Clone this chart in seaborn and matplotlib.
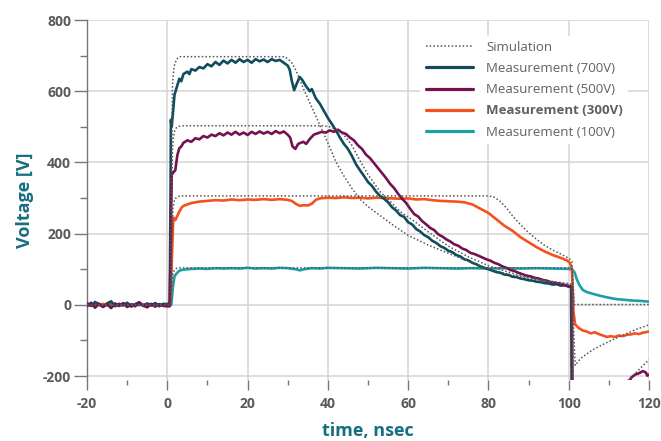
import numpy as np
import pandas as pd
import matplotlib
matplotlib.use("Agg")
import matplotlib.pyplot as plt
import seaborn as sns
from matplotlib.ticker import MultipleLocator
from matplotlib.lines import Line2D

# ---------------- data ----------------
pre_t = [-20, -19, -18, -17, -16, -15, -14, -13, -12, -11, -10, -9, -8, -7, -6, -5, -4, -3, -2, -1, 0]

# Simulation curves
sim700_t = [-20, 0.8, 1.0, 1.3, 1.7, 2.3, 3.2, 29, 30, 31, 32, 34, 36, 38, 40, 42, 44, 46, 48, 50, 53, 56,
            60, 65, 70, 75, 80, 85, 90, 95, 100, 100.8, 101.2, 110, 120]
sim700_v = [0, 0, 350, 620, 670, 690, 697, 697, 692, 680, 660, 605, 555, 505, 455, 402, 362, 327, 297, 276, 251, 226,
            195, 168, 145, 122, 101, 86, 75, 65, 57, 55, -520, -420, -290]
sim500_t = [-20, 0.8, 1.0, 1.3, 1.7, 2.3, 3.2, 39, 40.5, 42, 44, 46, 48, 50, 53, 56, 58, 61, 65, 70, 75,
            80, 85, 90, 95, 100, 100.8, 101.2, 110, 115.8, 120]
sim500_v = [0, 0, 250, 440, 485, 498, 503, 503, 500, 493, 477, 448, 405, 366, 318, 285, 262, 239, 205, 165, 135,
            110, 92, 77, 67, 60, 58, -330, -260, -201, -154]
sim300_t = [-20, 0.9, 1.1, 1.4, 1.8, 2.4, 3.2, 80, 81.5, 83, 84.5, 86, 88, 90, 92, 94, 96, 98, 100, 100.8,
            101.2, 101.6, 103, 106, 110, 114.5, 117, 120]
sim300_v = [0, 0, 150, 270, 296, 303, 306, 306, 302, 290, 272, 250, 225, 203, 184, 167, 154, 143, 131, 122,
            -60, -170, -150, -126, -103, -80, -68, -56]
sim100_t = [-20, 0.9, 1.1, 1.4, 1.8, 2.4, 3.2, 100.8, 101.1, 101.4, 120]
sim100_v = [0, 0, 50, 88, 99, 103, 104, 104, 60, 1, 1]

# Measurement (700V)
m700_t = pre_t + [0.6, 0.8, 0.9, 1.1, 1.4, 1.8, 2.4, 3, 3.5, 4, 5, 5.5, 6, 7, 8, 9, 10, 11, 12, 13, 14, 15,
                  16, 17, 18, 19, 20, 21, 22, 23, 24, 25, 26, 27, 28, 29, 30, 30.5, 31, 31.6, 32.2, 33, 33.6,
                  34.5, 35.5, 36, 37, 38, 39, 40, 41, 42, 43, 44, 45, 46, 47, 48, 49, 50, 51, 52, 53, 54,
                  55, 56, 57, 58, 59, 60, 61, 62, 63, 64, 65, 66, 67, 68, 69, 70, 71, 72, 73, 74, 75, 76,
                  77, 78, 79, 80, 81, 82, 83, 84, 85, 86, 87, 88, 89, 90, 91, 92, 93, 94, 95, 96, 97, 98,
                  99, 100, 100.6, 100.8]
m700_v = [5, -3, 8, 2, -6, 4, 10, -4, 3, -2, 6, -5, 2, 7, -3, 4, -1, 5, -4, 3, 2] + \
         [5, 300, 520, 500, 540, 590, 613, 635, 628, 648, 655, 648, 662, 658, 668, 664, 676, 670, 682, 674,
          686, 678, 688, 680, 690, 682, 688, 680, 690, 684, 689, 682, 690, 685, 688, 680, 672, 660, 630, 603,
          620, 640, 632, 615, 600, 606, 580, 565, 545, 525, 508, 490, 470, 452, 438, 418, 395, 378, 362,
          345, 334, 318, 306, 298, 288, 274, 265, 252, 247, 232, 226, 213, 206, 196, 190, 180, 174, 165,
          160, 152, 148, 140, 136, 128, 125, 118, 114, 108, 104, 100, 96, 92, 90, 85, 84, 79, 78, 74, 72,
          69, 68, 65, 64, 61, 60, 57, 58, 54, 55, 51, 52, -400]

# Measurement (500V)
m500_t = pre_t + [0.6, 0.9, 1.1, 1.5, 2, 2.5, 3, 3.5, 4, 5, 6, 7, 8, 9, 10, 11, 12, 13, 14, 15, 16, 17, 18,
                  19, 20, 21, 22, 23, 24, 25, 26, 27, 28, 29, 30, 30.6, 31.2, 31.9, 32.6, 33.9, 34.6, 35.5,
                  36.5, 37.5, 38.5, 39.5, 40.5, 41.5, 42.5, 43.5, 44.5, 45.5, 46.5, 47.5, 48.5, 49.5, 50.5,
                  51.5, 52.5, 53.5, 54.5, 55.5, 56.5, 57.5, 58.5, 59.5, 60.5, 61.5, 62.5, 63.5, 64.5, 65.5,
                  66.5, 67.5, 68.5, 69.5, 70.5, 71.5, 72.5, 73.5, 74.5, 75.5, 76.5, 77.5, 78.5, 79.5, 80.5,
                  81.5, 82.5, 83.5, 84.5, 85.5, 86.5, 87.5, 88.5, 89.5, 90.5, 91.5, 92.5, 93.5, 94.5, 95.5,
                  96.5, 97.5, 98.5, 99.5, 100.3, 100.8, 101.0, 114, 115.5, 116.5, 117.5, 118.5, 119.2,
                  119.6, 120]
m500_v = [-4, 6, -8, 3, -5, 2, -9, 4, -3, 5, -6, 1, -4, 7, -2, -7, 3, -5, 2, -3, -4] + \
         [-4, 200, 365, 372, 378, 420, 440, 445, 455, 462, 458, 468, 465, 474, 470, 478, 474, 482, 476, 484,
          478, 486, 478, 484, 477, 486, 480, 487, 481, 486, 480, 488, 482, 487, 478, 470, 445, 438, 452, 458,
          452, 466, 478, 482, 486, 484, 490, 486, 492, 484, 480, 470, 462, 448, 438, 422, 412, 398, 384,
          370, 356, 340, 328, 312, 298, 286, 270, 255, 248, 235, 226, 216, 210, 198, 192, 184, 178, 170,
          166, 158, 154, 146, 143, 138, 133, 128, 124, 118, 114, 108, 104, 98, 95, 90, 86, 82, 80, 76, 74,
          70, 68, 64, 62, 60, 57, 54, 52, 50, -420, -260, -205, -196, -192, -186, -190, -199, -196]

# Measurement (300V)
m300_t = pre_t + [0.8, 1.2, 1.5, 2, 2.5, 3, 3.5, 4, 5, 6, 7, 8, 9, 10, 12, 14, 16, 18, 20, 22, 24, 26, 28,
                  30, 31, 32, 33, 34, 35, 36, 37, 38, 40, 42, 44, 46, 48, 50, 52, 54, 56, 58, 60, 62, 64,
                  66, 68, 70, 72, 74, 76, 78, 80, 82, 84, 86, 88, 90, 92, 94, 96, 98, 99.5, 100.3, 100.8,
                  101.2, 101.6, 102.5, 103.5, 104.5, 105.5, 106.5, 107.5, 108.5, 109.5, 110.5, 111.5, 112.5,
                  113.5, 114.5, 115.5, 116.5, 117.5, 118.5, 119.5, 120]
m300_v = [2, -3, 4, -1, 3, -2, 5, 0, -3, 2, 4, -2, 1, 3, -1, 2, -2, 3, 1, -1, 2] + \
         [2, 150, 245, 238, 250, 262, 272, 278, 282, 286, 288, 290, 291, 292, 294, 293, 296, 294, 296, 295,
          297, 295, 297, 295, 292, 284, 278, 280, 279, 284, 295, 299, 301, 300, 302, 300, 301, 299, 301,
          300, 299, 298, 299, 296, 297, 294, 292, 291, 290, 288, 282, 270, 258, 240, 222, 208, 190, 176,
          162, 150, 140, 132, 125, 118, 100, -20, -55, -65, -72, -75, -80, -77, -82, -86, -90, -88, -90,
          -86, -88, -84, -83, -80, -82, -78, -76, -75]

# Measurement (100V)
m100_t = pre_t + [1.0, 1.4, 1.8, 2.3, 3, 4, 5, 6, 8, 10, 12, 14, 16, 18, 20, 22, 24, 26, 28, 30, 32, 33, 34,
                  36, 38, 40, 44, 48, 52, 56, 60, 64, 68, 72, 76, 80, 84, 88, 92, 96, 100, 101, 101.5, 102,
                  102.7, 103.5, 104.5, 106, 108, 110, 112, 114, 116, 118, 120]
m100_v = [1, -2, 2, 0, -1, 2, 1, -2, 0, 1, -1, 2, 0, -1, 1, 0, -2, 1, 0, 1, 0] + \
         [0, 50, 80, 88, 96, 99, 100, 101, 102, 101, 103, 102, 103, 102, 104, 102, 103, 102, 104, 103, 100,
          97, 100, 103, 102, 104, 103, 102, 104, 103, 102, 104, 103, 102, 103, 102, 103, 102, 103, 102, 101,
          98, 90, 72, 55, 42, 36, 31, 25, 20, 16, 14, 12, 11, 9]

x_ticks = [-20, 0, 20, 40, 60, 80, 100, 120]
y_ticks = [-200, 0, 200, 400, 600, 800]
legend_labels = ["Simulation", "Measurement (700V)", "Measurement (500V)",
                 "Measurement (300V)", "Measurement (100V)"]

# ---------------- style ----------------
sns.set_theme(style="white")
plt.rcParams["font.family"] = ["Open Sans", "DejaVu Sans"]
plt.rcParams["axes.unicode_minus"] = False

c700 = "#0f4d5c"
c500 = "#74124f"
c300 = "#f4511e"
c100 = "#1aa0aa"
csim = "#555555"
ctext = "#5a5a5a"
clabel = "#176e80"

fig = plt.figure(figsize=(6.61, 4.41), dpi=100)
ax = fig.add_axes([87 / 661, 1 - 380 / 441, (649 - 87) / 661, 360 / 441])

meas = [(m100_t, m100_v, c100, 2), (m300_t, m300_v, c300, 3),
        (m700_t, m700_v, c700, 4), (m500_t, m500_v, c500, 5)]
for t, v, c, z in meas:
    df = pd.DataFrame({"t": t, "v": v})
    sns.lineplot(data=df, x="t", y="v", ax=ax, color=c, linewidth=1.9, sort=False,
                 estimator=None, zorder=z)

for t, v in [(sim700_t, sim700_v), (sim500_t, sim500_v), (sim300_t, sim300_v), (sim100_t, sim100_v)]:
    df = pd.DataFrame({"t": t, "v": v})
    sns.lineplot(data=df, x="t", y="v", ax=ax, color=csim, linewidth=1.1, sort=False,
                 estimator=None, zorder=6, linestyle=(0, (1, 1.4)))

ax.set_xlim(-20, 120)
ax.set_ylim(-211, 800)
ax.set_xticks(x_ticks)
ax.set_yticks(y_ticks)
ax.xaxis.set_minor_locator(MultipleLocator(10))
ax.yaxis.set_minor_locator(MultipleLocator(100))
ax.grid(True, which="major", color="#d4d4d4", linewidth=1.1, zorder=0)
ax.set_axisbelow(True)
for s in ["top", "right", "bottom"]:
    ax.spines[s].set_visible(False)
ax.spines["left"].set_color("#777777")
ax.spines["left"].set_linewidth(1.0)

ax.tick_params(axis="y", which="major", direction="out", length=9.5, width=1, color="#777777",
               labelsize=10, labelcolor=ctext, pad=2, left=True)
ax.tick_params(axis="y", which="minor", direction="out", length=5, width=1, color="#777777", left=True)
ax.tick_params(axis="x", which="major", direction="out", length=7.5, width=1, color="#777777",
               labelsize=10, labelcolor=ctext, pad=5, bottom=True)
ax.tick_params(axis="x", which="minor", direction="out", length=3.8, width=1, color="#777777", bottom=True)
for lab in ax.get_xticklabels() + ax.get_yticklabels():
    lab.set_fontweight("bold")

ax.set_xlabel("time, nsec", fontsize=13, fontweight="bold", color=clabel, labelpad=8)
ax.set_ylabel("Voltage [V]", fontsize=13, fontweight="bold", color=clabel, labelpad=6)

handles = [Line2D([], [], color=csim, linewidth=1.1, linestyle=(0, (1, 1.4))),
           Line2D([], [], color=c700, linewidth=2.3),
           Line2D([], [], color=c500, linewidth=2.3),
           Line2D([], [], color=c300, linewidth=2.3),
           Line2D([], [], color=c100, linewidth=2.3)]
leg = ax.legend(handles, legend_labels, loc="upper right", bbox_to_anchor=(0.975, 0.975),
                frameon=True, fontsize=9.5, handlelength=3.6, handletextpad=1.0,
                labelspacing=0.62, borderpad=0.4, facecolor="white", edgecolor="white", framealpha=1)
leg.get_frame().set_linewidth(0)
leg.set_zorder(10)
for i, txt in enumerate(leg.get_texts()):
    txt.set_color("#606060")
    if i == 3:
        txt.set_fontweight("bold")

fig.savefig("out.png", dpi=100)
